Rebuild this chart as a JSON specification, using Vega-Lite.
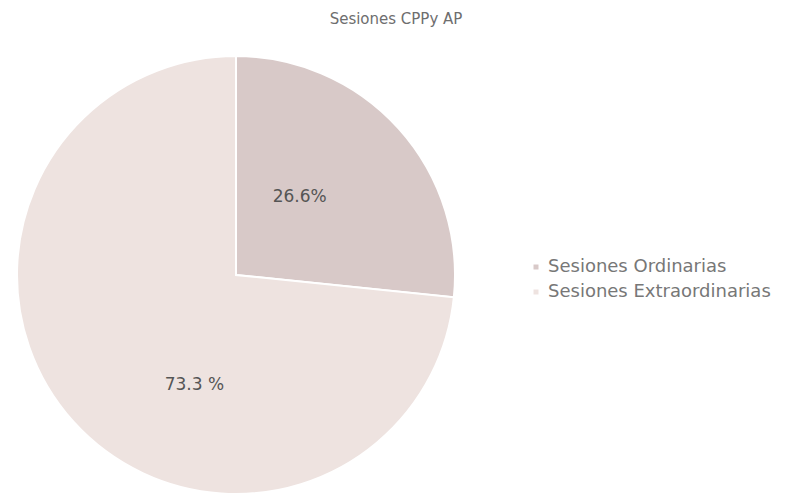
{
  "$schema": "https://vega.github.io/schema/vega-lite/v6.json",
  "width": 472,
  "height": 438,
  "autosize": "none",
  "padding": {"left": 0, "top": 56, "right": 319, "bottom": 1},
  "background": "#ffffff",
  "config": {"view": {"stroke": null}, "font": "DejaVu Sans"},
  "title": {"text": "Sesiones CPPy AP", "anchor": "middle", "dx": 160, "offset": 25, "fontSize": 15, "fontWeight": "normal", "color": "#6e6e6e", "font": "DejaVu Sans"},
  "data": {"values": [
    {"categoria": "Sesiones Ordinarias", "valor": 26.6, "orden": 1, "etiqueta": "26.6%"},
    {"categoria": "Sesiones Extraordinarias", "valor": 73.3, "orden": 2, "etiqueta": "73.3 %"}
  ]},
  "encoding": {
    "theta": {"field": "valor", "type": "quantitative", "stack": true},
    "order": {"field": "orden", "type": "ordinal"},
    "color": {"field": "categoria", "type": "nominal",
      "scale": {"domain": ["Sesiones Ordinarias", "Sesiones Extraordinarias"], "range": ["#d8c9c8", "#eee3e0"]},
      "legend": {"title": null, "orient": "none", "legendX": 527, "legendY": 202, "padding": 0,
        "symbolType": "square", "symbolSize": 25, "symbolStrokeWidth": 0, "labelFontSize": 18, "labelColor": "#777777",
        "labelFont": "DejaVu Sans", "labelLimit": 400, "rowPadding": 7, "labelOffset": 3}}
  },
  "layer": [
    {"mark": {"type": "arc", "stroke": "#ffffff", "strokeWidth": 2}},
    {"mark": {"type": "text", "radius": 110, "fontSize": 17, "color": "#555555", "font": "DejaVu Sans",
      "dx": {"expr": "datum.orden == 1 ? -18 : 40"}, "dy": {"expr": "datum.orden == 1 ? -4 : 36"}},
     "encoding": {"text": {"field": "etiqueta", "type": "nominal"}, "color": {"value": "#555555"}}}
  ]
}
